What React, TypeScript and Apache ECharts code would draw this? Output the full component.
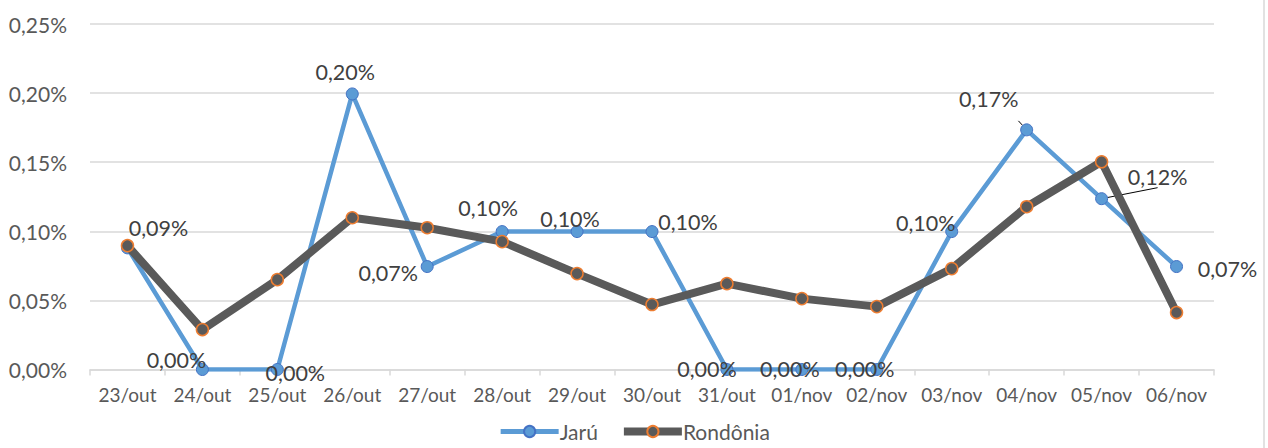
import React, { useEffect, useRef } from "react";
import * as echarts from "echarts";

const categories = ["23/out", "24/out", "25/out", "26/out", "27/out", "28/out", "29/out", "30/out", "31/out", "01/nov", "02/nov", "03/nov", "04/nov", "05/nov", "06/nov"];
const jaru = [0.088, 0, 0, 0.1994, 0.0745, 0.0998, 0.0998, 0.0998, 0, 0, 0, 0.0998, 0.1734, 0.1236, 0.0745];
const rondonia = [0.0896, 0.0289, 0.065, 0.1098, 0.1026, 0.0925, 0.0694, 0.047, 0.0621, 0.0513, 0.0455, 0.073, 0.1178, 0.1503, 0.0412];
const yTicks = { min: 0, max: 0.25, interval: 0.05 };
// label offsets (dx, dy) from each Jarú point
const jaruLabelOffsets: [number, number][] = [
  [31, -20], [-26, -10], [18, 3], [-7, -22], [-39, 6], [-14, -24], [-7, -13], [36, -10],
  [-20, -1], [-12, -1], [-12, -1], [-26, -9], [-38, -31], [56, -22], [51, 2],
];
const leaderIdx = [12, 13];

const fmt = (v: number) => v.toFixed(2).replace(".", ",") + "%";
const FONT = "Lato";
const TXT = "#595959";

export default function App() {
  const ref = useRef<HTMLDivElement>(null);
  useEffect(() => {
    if (!ref.current) return;
    const chart = echarts.init(ref.current, undefined, { renderer: "svg" });
    chart.setOption({
      animation: false,
      textStyle: { fontFamily: FONT },
      grid: { left: 90, right: 54, top: 24, bottom: 78.5, containLabel: false },
      legend: {
        bottom: 1,
        left: "center",
        itemWidth: 58,
        itemHeight: 14,
        itemGap: 22,
        textStyle: { fontSize: 21, color: TXT, fontFamily: FONT, padding: [0, 0, 0, -4] },
        data: [
          { name: "Jarú", lineStyle: { width: 5, color: "#5b9bd5" } },
          { name: "Rondônia", lineStyle: { width: 8, color: "#5a5a5a" } },
        ],
      },
      xAxis: {
        type: "category",
        data: categories,
        boundaryGap: true,
        axisLine: { lineStyle: { color: "#d9d9d9", width: 1.5 } },
        axisTick: { show: true, length: 6, lineStyle: { color: "#d9d9d9", width: 1.5 } },
        axisLabel: { interval: 0, fontSize: 19, color: TXT, margin: 15, fontFamily: FONT },
      },
      yAxis: {
        type: "value",
        min: yTicks.min,
        max: yTicks.max,
        interval: yTicks.interval,
        axisLine: { show: false },
        axisTick: { show: false },
        splitLine: { lineStyle: { color: "#d9d9d9", width: 1.5 } },
        axisLabel: { fontSize: 21, color: TXT, margin: 23, fontFamily: FONT, formatter: (v: number) => fmt(v) },
      },
      graphic: [
        { type: "line", shape: { x1: 1264, y1: 0, x2: 1264, y2: 448 }, style: { stroke: "#d9d9d9", lineWidth: 1.5 } },
      ],
      series: [
        {
          name: "Jarú",
          type: "line",
          z: 2,
          symbol: "circle",
          symbolSize: 12,
          lineStyle: { color: "#5b9bd5", width: 4.5 },
          itemStyle: { color: "#5b9bd5", borderColor: "#4472c4", borderWidth: 1 },
          data: jaru.map((v, i) => ({
            value: v,
            label: {
              show: true,
              position: "inside",
              offset: jaruLabelOffsets[i],
              formatter: (p: any) => fmt(p.value),
              fontSize: 21.5,
              lineHeight: 22,
              color: "#404040",
              fontFamily: FONT,
            },
            labelLine: leaderIdx.includes(i)
              ? { show: true, lineStyle: { color: "#000", width: 1 } }
              : { show: false },
          })),
        },
        {
          name: "Rondônia",
          type: "line",
          z: 3,
          symbol: "circle",
          symbolSize: 12,
          lineStyle: { color: "#5a5a5a", width: 8 },
          itemStyle: { color: "#5a5a5a", borderColor: "#ed7d31", borderWidth: 1.5 },
          data: rondonia,
        },
      ],
    });
    return () => chart.dispose();
  }, []);
  return <div ref={ref} style={{ position: "absolute", left: 0, top: 0, width: 1268, height: 448 }} />;
}
